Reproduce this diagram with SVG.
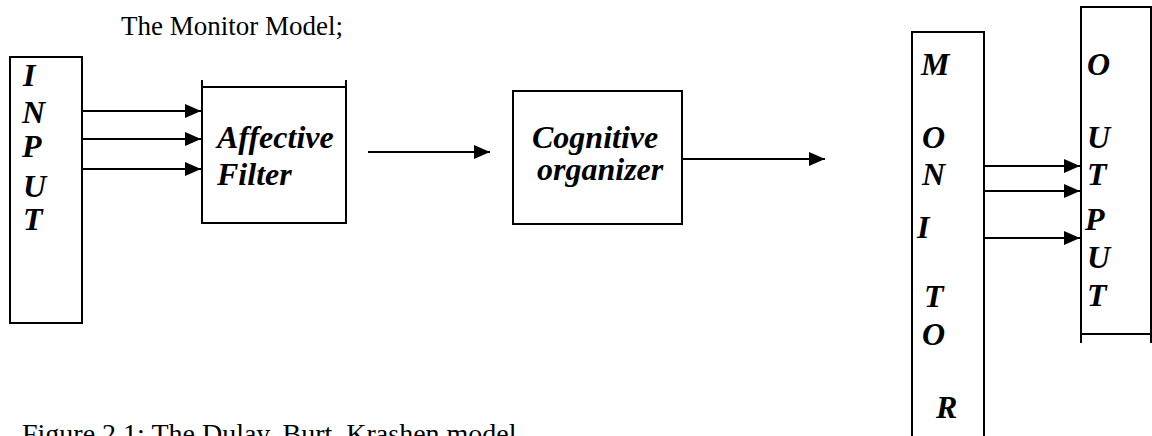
<svg xmlns="http://www.w3.org/2000/svg" width="1152" height="436" viewBox="0 0 1152 436">
<defs>
<style>
.box{fill:none;stroke:#000;stroke-width:2}
.ln{stroke:#000;stroke-width:2;fill:none}
.conn{stroke:#000;stroke-width:2.2;fill:none;marker-end:url(#ah)}
.lbl{font-family:"Liberation Serif","Times New Roman",serif;font-weight:bold;font-style:italic;font-size:32px;fill:#000}
.plain{font-family:"Liberation Serif","Times New Roman",serif;font-size:27px;fill:#000}
.cap{font-family:"Liberation Serif","Times New Roman",serif;font-size:28px;fill:#000}
</style>
<marker id="ah" markerUnits="userSpaceOnUse" markerWidth="16" markerHeight="14" refX="16" refY="7" orient="auto">
<path d="M0,0 L16,7 L0,14 z" fill="#000"/>
</marker>
</defs>
<rect width="1152" height="436" fill="#fff"/>
<text class="plain" x="121" y="35">The Monitor Model;</text>
<g id="input">
<rect class="box" x="10" y="57" width="72" height="266"/>
<text class="lbl" x="23" y="86">I</text>
<text class="lbl" x="22" y="123">N</text>
<text class="lbl" x="22" y="157">P</text>
<text class="lbl" x="23" y="197">U</text>
<text class="lbl" x="23" y="230">T</text>
</g>
<g id="affective">
<path class="ln" d="M202,80 V223 H346 V80 M202,87 H346"/>
<text class="lbl" x="217" y="148">Affective</text>
<text class="lbl" x="217" y="185">Filter</text>
</g>
<g id="cognitive">
<rect class="box" x="513" y="91" width="169" height="133"/>
<text class="lbl" x="532" y="148">Cognitive</text>
<text class="lbl" x="537" y="180">organizer</text>
</g>
<g id="monitor">
<path class="ln" d="M912,440 V32 H984 V440"/>
<text class="lbl" x="921" y="75">M</text>
<text class="lbl" x="922" y="148">O</text>
<text class="lbl" x="922" y="185">N</text>
<text class="lbl" x="917" y="238">I</text>
<text class="lbl" x="924" y="307">T</text>
<text class="lbl" x="922" y="345">O</text>
<text class="lbl" x="936" y="418">R</text>
</g>
<g id="output">
<path class="ln" d="M1081,343 V7 H1151 V343 M1081,334 H1151"/>
<text class="lbl" x="1087" y="75">O</text>
<text class="lbl" x="1087" y="148">U</text>
<text class="lbl" x="1087" y="185">T</text>
<text class="lbl" x="1085" y="230">P</text>
<text class="lbl" x="1087" y="268">U</text>
<text class="lbl" x="1087" y="306">T</text>
</g>
<g id="connectors">
<line class="conn" x1="82" y1="111" x2="201" y2="111"/>
<line class="conn" x1="82" y1="139" x2="201" y2="139"/>
<line class="conn" x1="82" y1="169" x2="201" y2="169"/>
<line class="conn" x1="368" y1="152" x2="490" y2="152"/>
<line class="conn" x1="682" y1="159" x2="825" y2="159"/>
<line class="conn" x1="984" y1="166" x2="1080" y2="166"/>
<line class="conn" x1="984" y1="191" x2="1080" y2="191"/>
<line class="conn" x1="984" y1="238" x2="1080" y2="238"/>
</g>
<text class="cap" x="22" y="443">Figure 2.1: The Dulay, Burt, Krashen model</text>
</svg>
